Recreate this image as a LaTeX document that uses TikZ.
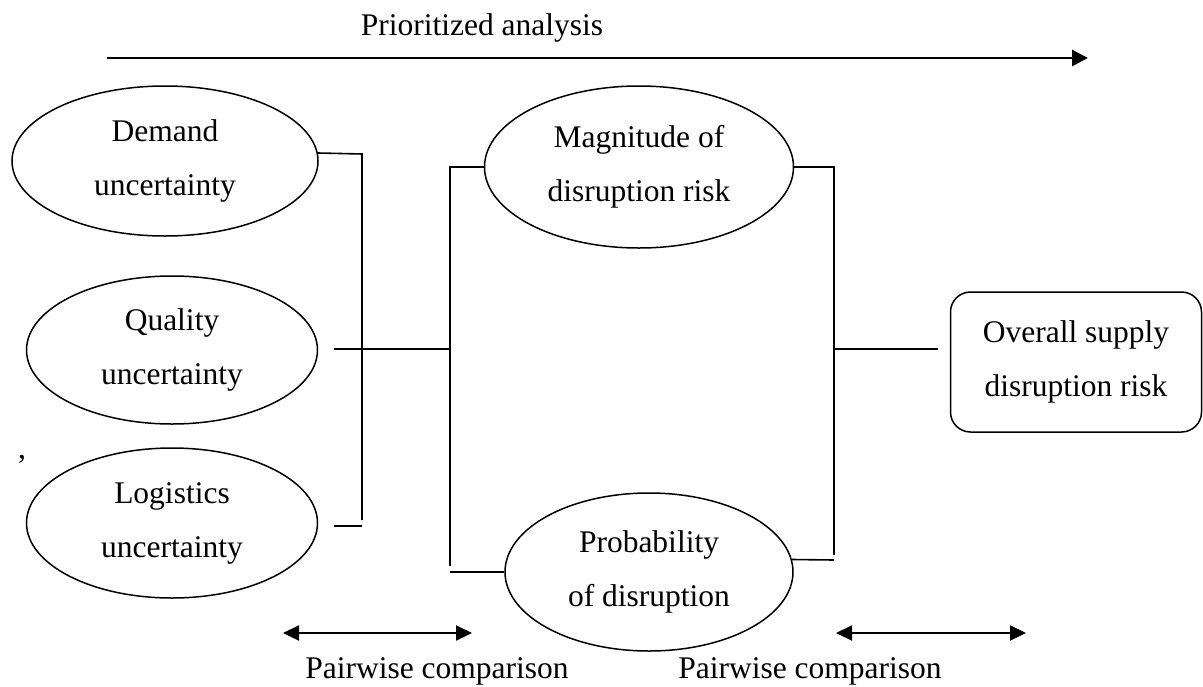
\documentclass[tikz,border=0pt]{standalone}
\usepackage{fontspec}
\setmainfont{Liberation Serif}
\usetikzlibrary{shapes.geometric,arrows.meta}

\begin{document}
\begin{tikzpicture}[x=1pt, y=-1pt,
        every node/.style = {font=\fontsize{31.5}{54}\selectfont},
        factor/.style = {draw, ellipse, line width=1.5pt, inner sep=0pt, align=center},
        link/.style = {line width=1.6pt},
        both/.style = {line width=2.2pt, {Triangle[length=16pt,width=15pt]}-{Triangle[length=16pt,width=15pt]}}]
        \useasboundingbox (0,0) rectangle (1203,686);
        \node[anchor=base] (title) at (482,35) {Prioritized analysis};
        \coordinate (start) at (107,58);
        \coordinate (end) at (1088,58);
        \draw[line width=2.8pt, -{Triangle[length=16pt,width=16pt]}] (start) -- (end);
        \node[factor, minimum width=306pt, minimum height=150pt] (demand) at (165,161) {Demand\\uncertainty};
        \node[factor, minimum width=291pt, minimum height=148pt] (quality) at (172,350) {Quality\\uncertainty};
        \node[factor, minimum width=291pt, minimum height=150pt] (logistics) at (172,523) {Logistics\\uncertainty};
        \node[factor, minimum width=309pt, minimum height=162pt] (magnitude) at (639,167) {Magnitude of\\disruption risk};
        \node[factor, minimum width=288pt, minimum height=158pt] (probability) at (649,572) {Probability\\of disruption};
        \node[draw, rounded corners=20pt, line width=1.5pt, align=center, minimum width=251pt, minimum height=140pt] (overall) at (1076,362) {Overall supply\\disruption risk};
        \node[anchor=base] (comma) at (22,458) {,};
        \coordinate (ltop) at (362,154);
        \coordinate (lbot) at (362,520);
        \coordinate (lstub) at (334,526);
        \coordinate (lstubend) at (362,526);
        \coordinate (qstub) at (334,349);
        \coordinate (mjoin) at (450,349);
        \coordinate (mtop) at (450,167);
        \coordinate (mbot) at (450,566);
        \coordinate (mlow) at (450,572);
        \coordinate (rtop) at (834,167);
        \coordinate (rbot) at (834,555);
        \coordinate (rlow) at (834,560);
        \coordinate (rjoin) at (834,349);
        \coordinate (rout) at (938,349);
        \draw[link] (demand.3) -- (ltop) -- (lbot);
        \draw[link] (lstub) -- (lstubend);
        \draw[link] (qstub) -- (mjoin);
        \draw[link] (magnitude.west) -- (mtop) -- (mbot);
        \draw[link] (mlow) -- (probability.west);
        \draw[link] (magnitude.east) -- (rtop) -- (rbot);
        \draw[link] (probability.5) -- (rlow);
        \draw[link] (rjoin) -- (rout);
        \coordinate (pl1) at (283,633);
        \coordinate (pl2) at (472,633);
        \coordinate (pr1) at (836,633);
        \coordinate (pr2) at (1026,633);
        \draw[both] (pl1) -- (pl2);
        \draw[both] (pr1) -- (pr2);
        \node[anchor=base] (pairleft) at (437,678) {Pairwise comparison};
        \node[anchor=base] (pairright) at (810,678) {Pairwise comparison};
      \end{tikzpicture}
\end{document}
